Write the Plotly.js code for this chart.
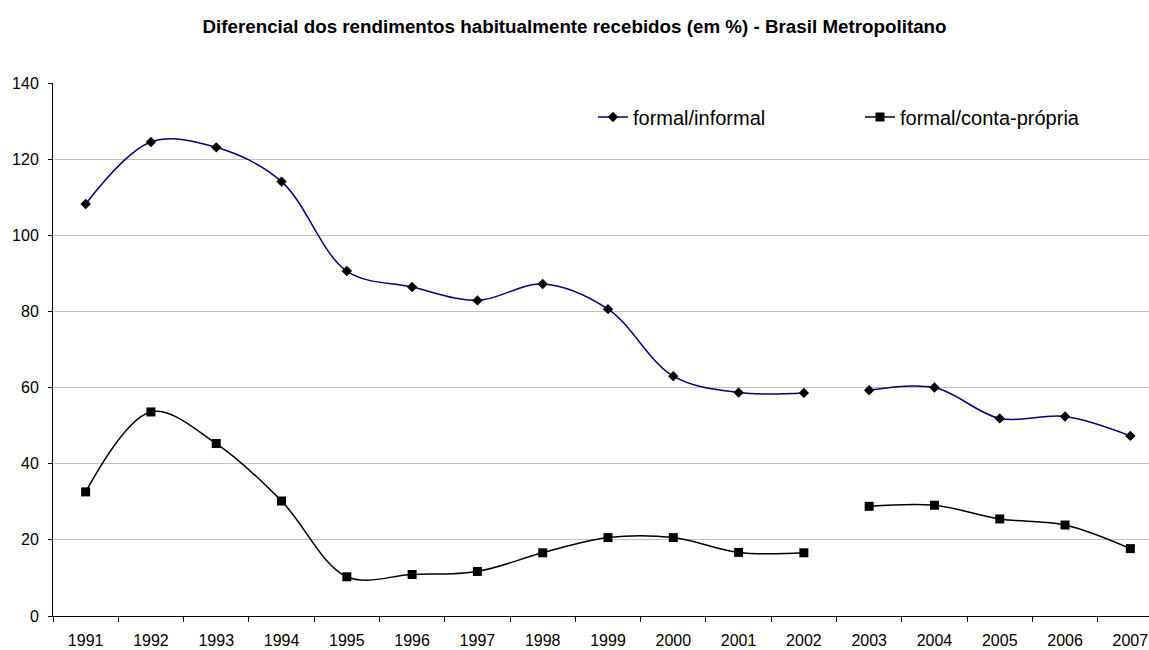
<!DOCTYPE html>
<html>
<head>
<meta charset="utf-8">
<script src="https://cdn.plot.ly/plotly-3.0.1.min.js"></script>
<style>
  html, body { margin: 0; padding: 0; background: #fff; overflow: hidden; }
  #chart { width: 1164px; height: 650px; }
</style>
</head>
<body>
<div id="chart"></div>
<script>
// ---- data ----
const years = ["1991","1992","1993","1994","1995","1996","1997","1998","1999","2000","2001","2002","2003","2004","2005","2006","2007"];
const formalInformal = [108.2, 124.5, 123.1, 114.1, 90.6, 86.4, 82.9, 87.2, 80.6, 63.0, 58.7, 58.6, 59.3, 60.0, 51.9, 52.4, 47.3];
const formalContaPropria = [32.6, 53.6, 45.3, 30.2, 10.3, 10.9, 11.7, 16.6, 20.6, 20.6, 16.7, 16.6, 28.8, 29.1, 25.5, 23.9, 17.7];
const seriesNames = ["formal/informal", "formal/conta-própria"];
// series break between 2002 and 2003
const breakAfter = "2002";

const font = "Arial, 'Liberation Sans', sans-serif";
const cut = years.indexOf(breakAfter) + 1;

function seg(name, vals, part, style, legendId, show) {
  const xs = part === 0 ? years.slice(0, cut) : years.slice(cut);
  const ys = part === 0 ? vals.slice(0, cut) : vals.slice(cut);
  return Object.assign({
    type: "scatter", mode: "lines+markers", name: name,
    x: xs, y: ys, legend: legendId, showlegend: show,
    hoverinfo: "x+y+name"
  }, style);
}

const styleA = {
  line: { color: "#000080", width: 1.5, shape: "spline", smoothing: 1 },
  marker: { symbol: "diamond", size: 8, color: "#000000", line: { width: 0 } }
};
const styleB = {
  line: { color: "#000000", width: 1.5, shape: "spline", smoothing: 1 },
  marker: { symbol: "square", size: 9, color: "#000000", line: { width: 0 } }
};

const traces = [
  seg(seriesNames[0], formalInformal, 0, styleA, "legend", true),
  seg(seriesNames[0], formalInformal, 1, styleA, "legend", false),
  seg(seriesNames[1], formalContaPropria, 0, styleB, "legend2", true),
  seg(seriesNames[1], formalContaPropria, 1, styleB, "legend2", false)
];

const legendBase = {
  orientation: "h", yanchor: "middle", xanchor: "left",
  font: { family: font, size: 20, color: "#000" },
  bgcolor: "rgba(0,0,0,0)", borderwidth: 0
};

const layout = {
  width: 1164, height: 650,
  margin: { l: 53, r: 1, t: 83, b: 34 },
  paper_bgcolor: "#ffffff", plot_bgcolor: "#ffffff",
  font: { family: font, size: 16, color: "#000" },
  title: {
    text: "Diferencial dos rendimentos habitualmente recebidos (em %) - Brasil Metropolitano",
    font: { family: font, size: 18.8, weight: "bold", color: "#000" },
    xref: "container", x: 574.5 / 1164, xanchor: "center",
    yref: "container", y: 1 - 26 / 650, yanchor: "middle"
  },
  xaxis: {
    type: "category", categoryorder: "array", categoryarray: years,
    range: [-0.5, years.length - 0.5],
    showgrid: false, showline: true, linecolor: "#000", linewidth: 1,
    ticks: "outside", tickson: "boundaries", ticklen: 5, tickcolor: "#000",
    ticklabelstandoff: 10,
    tickfont: { family: font, size: 16, color: "#000" },
    zeroline: false, fixedrange: true
  },
  yaxis: {
    range: [0, 140], dtick: 20, tick0: 0,
    showgrid: true, gridcolor: "#c0c0c0", gridwidth: 1,
    showline: true, linecolor: "#000", linewidth: 1,
    ticks: "outside", ticklen: 4, tickcolor: "#000",
    ticklabelstandoff: 6,
    tickfont: { family: font, size: 16, color: "#000" },
    zeroline: false, fixedrange: true
  },
  legend: Object.assign({ x: (593 - 53) / 1110, y: (616 - 117) / 533 }, legendBase),
  legend2: Object.assign({ x: (860 - 53) / 1110, y: (616 - 117) / 533 }, legendBase),
  showlegend: true
};

Plotly.newPlot("chart", traces, layout, { displayModeBar: false, staticPlot: false });
</script>
</body>
</html>
